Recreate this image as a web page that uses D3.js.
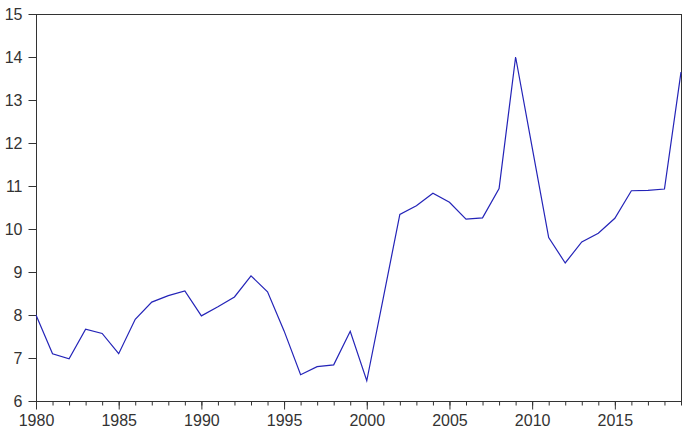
<!DOCTYPE html>
<html>
<head>
<meta charset="utf-8">
<script src="https://cdn.jsdelivr.net/npm/d3@7"></script>
<style>
  html, body { margin: 0; padding: 0; background: #fff; }
  svg { display: block; }
</style>
</head>
<body>
<svg id="chart" width="685" height="434"></svg>
<script>
const years = [1980,1981,1982,1983,1984,1985,1986,1987,1988,1989,
               1990,1991,1992,1993,1994,1995,1996,1997,1998,1999,
               2000,2001,2002,2003,2004,2005,2006,2007,2008,2009,
               2010,2011,2012,2013,2014,2015,2016,2017,2018,2019];
const values = [8.00,7.10,6.98,7.67,7.57,7.10,7.90,8.30,8.45,8.56,
                7.98,8.19,8.42,8.91,8.54,7.63,6.61,6.80,6.84,7.62,
                6.47,8.40,10.34,10.54,10.83,10.62,10.23,10.26,10.94,14.00,
                11.90,9.80,9.21,9.70,9.90,10.25,10.89,10.90,10.93,13.65];
const yTicks = [6,7,8,9,10,11,12,13,14,15];
const xMajorTicks = [1980,1985,1990,1995,2000,2005,2010,2015];
const xMinorTicks = years;

const mLeft = 36, mRight = 681, mTop = 14, mBottom = 401;
const svg = d3.select("#chart");
const x = d3.scaleLinear().domain([1980, 2019]).range([mLeft, mRight]);
const y = d3.scaleLinear().domain([6, 15]).range([mBottom, mTop]);

const axisColor = "#333";
const font = "'Liberation Sans', Arial, sans-serif";

// frame
svg.append("rect")
  .attr("x", mLeft + 0.5).attr("y", mTop + 0.5)
  .attr("width", mRight - mLeft).attr("height", mBottom - mTop)
  .attr("fill", "none").attr("stroke", axisColor).attr("stroke-width", 1);

// y axis
const yAxis = svg.append("g")
  .attr("transform", `translate(${mLeft + 0.5},0)`)
  .call(d3.axisLeft(y).tickValues(yTicks).tickSize(8).tickPadding(6).tickFormat(d3.format("d")));
yAxis.select(".domain").remove();
yAxis.selectAll("line").attr("stroke", axisColor);
yAxis.selectAll("text").attr("fill", "#333").style("font-family", font).style("font-size", "16px");

// x axis minor ticks
const xMinor = svg.append("g")
  .attr("transform", `translate(0,${mBottom + 0.5})`)
  .call(d3.axisBottom(x).tickValues(xMinorTicks).tickSize(4).tickFormat(""));
xMinor.select(".domain").remove();
xMinor.selectAll("line").attr("stroke", axisColor);

// x axis major ticks
const xMajor = svg.append("g")
  .attr("transform", `translate(0,${mBottom + 0.5})`)
  .call(d3.axisBottom(x).tickValues(xMajorTicks).tickSize(8).tickPadding(5).tickFormat(d3.format("d")));
xMajor.select(".domain").remove();
xMajor.selectAll("line").attr("stroke", axisColor);
xMajor.selectAll("text").attr("fill", "#333").style("font-family", font).style("font-size", "16px");

// line
const line = d3.line().x((d, i) => x(years[i])).y(d => y(d));
svg.append("path")
  .datum(values)
  .attr("d", line)
  .attr("fill", "none")
  .attr("stroke", "#2424b8")
  .attr("stroke-width", 1.2)
  .attr("stroke-linejoin", "miter");
</script>
</body>
</html>
